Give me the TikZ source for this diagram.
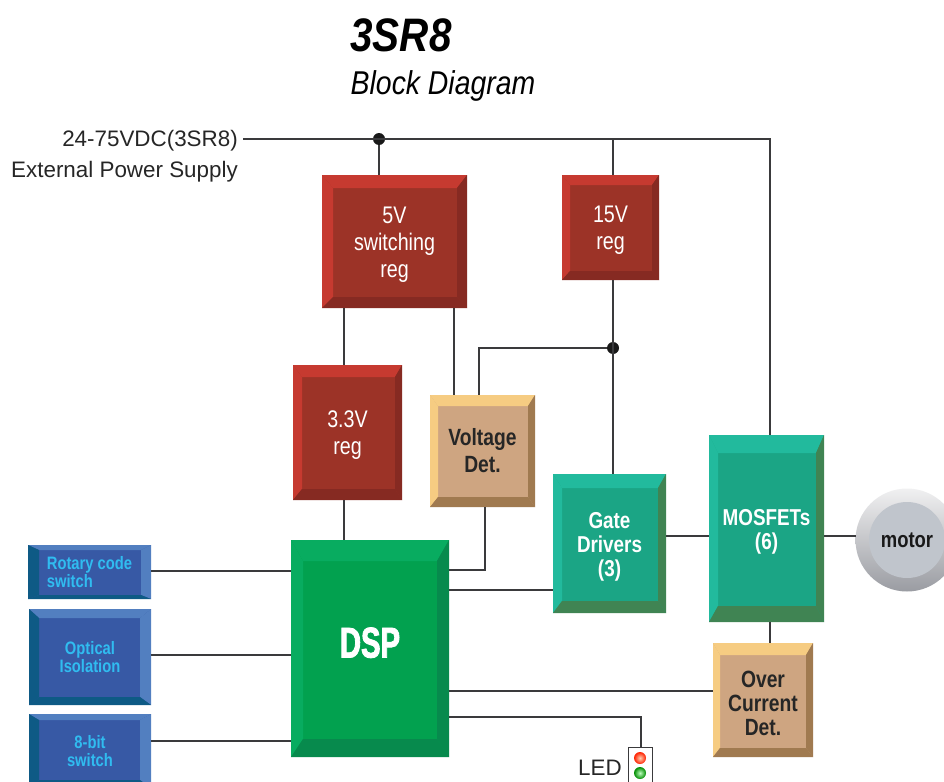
\documentclass[tikz,border=0pt]{standalone}
\usepackage{fontspec}
\setmainfont{Liberation Sans}
\newfontfamily\condfont[FakeStretch=0.82]{Liberation Sans}
\newfontfamily\headfont[FakeStretch=0.86,BoldFeatures={FakeBold=1.5}]{Liberation Sans}
\newfontfamily\dspfont[FakeStretch=0.68,BoldFeatures={FakeBold=2}]{Liberation Sans}
\usepackage{xcolor}
\usetikzlibrary{positioning}

\definecolor{wire}{HTML}{3A3A3C}
\definecolor{redT}{HTML}{C63A30}
\definecolor{redF}{HTML}{9C3327}
\definecolor{redD}{HTML}{862A22}
\definecolor{tanT}{HTML}{F6CC82}
\definecolor{tanF}{HTML}{CEA581}
\definecolor{tanD}{HTML}{A07A50}
\definecolor{tealT}{HTML}{22BA9D}
\definecolor{tealF}{HTML}{1BA585}
\definecolor{tealD}{HTML}{408453}
\definecolor{dspT}{HTML}{08AC60}
\definecolor{dspF}{HTML}{02A14F}
\definecolor{dspD}{HTML}{078A4D}
\definecolor{bluL}{HTML}{527FC0}
\definecolor{bluF}{HTML}{3759A5}
\definecolor{bluD}{HTML}{0E5A85}
\definecolor{cyantext}{HTML}{30BCF0}
\definecolor{motorF}{HTML}{C0C5CC}
\definecolor{motorL}{HTML}{F0F0F1}
\definecolor{motorD}{HTML}{9A9CA2}

\newcommand{\lowstrut}{\rule{0pt}{22pt}}

\tikzset{
  bevel/.style n args={8}{
    anchor=north west, inner sep=0pt, outer sep=0pt, align=center,
    path picture={
      \coordinate (nw) at (path picture bounding box.north west);
      \coordinate (ne) at (path picture bounding box.north east);
      \coordinate (sw) at (path picture bounding box.south west);
      \coordinate (se) at (path picture bounding box.south east);
      \coordinate (inw) at ([shift={(#5pt,-#6pt)}]nw);
      \coordinate (ine) at ([shift={(-#7pt,-#6pt)}]ne);
      \coordinate (isw) at ([shift={(#5pt,#8pt)}]sw);
      \coordinate (ise) at ([shift={(-#7pt,#8pt)}]se);
      \fill[#1] (nw) -- (ne) -- (ine) -- (inw) -- cycle;
      \fill[#2] (nw) -- (sw) -- (isw) -- (inw) -- cycle;
      \fill[#3] (ne) -- (se) -- (ise) -- (ine) -- cycle;
      \fill[#4] (sw) -- (se) -- (ise) -- (isw) -- cycle;
    }},
  regbox/.style={fill=redF, text=white, font=\condfont\fontsize{24}{27}\selectfont},
  detbox/.style={fill=tanF, text=black!85, font=\condfont\bfseries\fontsize{23.5}{27}\selectfont},
  fetbox/.style={fill=tealF, text=white, font=\condfont\bfseries\fontsize{23}{24}\selectfont},
  inbox/.style={fill=bluF, text=cyantext, font=\condfont\bfseries\fontsize{18}{18}\selectfont},
  wireline/.style={draw=wire, line width=1.4pt},
  joint/.style={circle, fill=black!90, minimum size=12pt, inner sep=0pt},
  plain/.style={font=\fontsize{22.4}{27}\selectfont, text=black!85, inner sep=0pt},
  lamp/.style={circle, minimum size=12pt, inner sep=0pt}
}

\begin{document}
\begin{tikzpicture}[x=1pt,y=-1pt]
\useasboundingbox (0,0) rectangle (944,781);

\node(title) at (401,35){\headfont\bfseries\itshape\fontsize{47}{47}\selectfont 3SR8};
\node(subtitle) at (443,86){\headfont\itshape\fontsize{33}{33}\selectfont Block Diagram};

\node(supply)[plain, anchor=east] at (238,141){24-75VDC(3SR8)};
\node(extern)[plain, anchor=east] at (238,172){External Power Supply};

% regulators
\node(regfive)[bevel={redT}{redT}{redD}{redD}{11}{13}{10}{11}, regbox, minimum width=145pt, minimum height=133pt] at (322,175){\lowstrut 5V\\switching\\reg};
\node(regfifteen)[bevel={redT}{redT}{redD}{redD}{8}{10}{7}{9}, regbox, minimum width=97pt, minimum height=105pt] at (562,175){\lowstrut 15V\\reg};
\node(regthree)[bevel={redT}{redT}{redD}{redD}{9}{12}{7}{11}, regbox, minimum width=109pt, minimum height=135pt] at (293,365){\lowstrut 3.3V\\reg};

% detectors
\node(voltdet)[bevel={tanT}{tanT}{tanD}{tanD}{8}{11}{7}{10}, detbox, minimum width=105pt, minimum height=112pt] at (430,395){Voltage\\Det.};
\node(overdet)[bevel={tanT}{tanT}{tanD}{tanD}{7}{12}{7}{9}, detbox, font=\condfont\bfseries\fontsize{23.5}{24}\selectfont, minimum width=100pt, minimum height=114pt] at (713,643){\rule{0pt}{23pt}Over\\Current\\Det.};

% power stage
\node(gate)[bevel={tealT}{tealT}{tealD}{tealD}{9}{14}{8}{12}, fetbox, minimum width=113pt, minimum height=139pt] at (553,474){\lowstrut Gate\\Drivers\\(3)};
\node(mosfet)[bevel={tealT}{tealT}{tealD}{tealD}{9}{18}{8}{16}, fetbox, minimum width=115pt, minimum height=187pt] at (709,435){\lowstrut MOSFETs\\(6)};

% processor
\node(dsp)[bevel={dspT}{dspT}{dspD}{dspD}{12}{21}{12}{18}, fill=dspF, text=white, font=\dspfont\bfseries\fontsize{43}{43}\selectfont, minimum width=158pt, minimum height=217pt] at (291,540){DSP\rule[-12pt]{0pt}{0pt}};

% inputs
\node(rotary)[bevel={bluL}{bluD}{bluL}{bluD}{11}{5}{10}{4}, inbox, align=left, minimum width=123pt, minimum height=54pt] at (28,545){Rotary code\\switch};
\node(optical)[bevel={bluL}{bluD}{bluL}{bluD}{10}{9}{11}{8}, inbox, minimum width=122pt, minimum height=96pt] at (29,609){Optical\\Isolation};
\node(eightbit)[bevel={bluL}{bluD}{bluL}{bluD}{10}{6}{11}{8}, inbox, minimum width=122pt, minimum height=74pt] at (29,714){8-bit\\switch};

% motor
\node(motor)[circle, inner sep=0pt, outer sep=0pt, minimum size=103pt, shade, shading angle=-45, top color=motorL, bottom color=motorD,
  path picture={\fill[motorF] (path picture bounding box.center) circle (38pt);},
  font=\condfont\bfseries\fontsize{22.5}{24}\selectfont, text=black!90] at (907,540){motor};

% led
\node(ledbox)[draw=wire, line width=1.2pt, anchor=north west, minimum width=24pt, minimum height=46pt, inner sep=0pt] at (628,747){};
\node(ledred)[lamp, shade, inner color=red!20!orange!30, outer color=red!75!orange] at (640,758){};
\node(ledgreen)[lamp, shade, inner color=green!25, outer color=green!55!black] at (640,773){};
\node(ledtext)[plain, anchor=east] at (622,768){LED};

% power rail
\node(jtop)[joint] at (379,139){};
\node(jmid)[joint] at (613,348){};
\coordinate(railend) at (770,139);
\draw[wireline] (243,139) -- (railend) -- (mosfet.north -| railend);
\draw[wireline] (jtop) -- (regfive.north -| jtop);
\draw[wireline] (regfifteen.north -| jmid) -- (jmid |- railend);
\draw[wireline] (regfifteen.south -| jmid) -- (gate.north -| jmid);
\coordinate(bendv) at (479,348);
\draw[wireline] (jmid) -- (bendv) -- (voltdet.north -| bendv);

% regulator feeds
\coordinate(feedthree) at (344,308);
\coordinate(feedvolt) at (454,308);
\draw[wireline] (regfive.south -| feedthree) -- (regthree.north -| feedthree);
\draw[wireline] (regthree.south -| feedthree) -- (dsp.north -| feedthree);
\draw[wireline] (regfive.south -| feedvolt) -- (voltdet.north -| feedvolt);

% signals into the dsp
\coordinate(bendd) at (485,570);
\draw[wireline] (voltdet.south -| bendd) -- (bendd) -- (dsp.east |- bendd);
\draw[wireline] (rotary.east |- 0,571) -- (dsp.west |- 0,571);
\draw[wireline] (optical.east |- 0,655) -- (dsp.west |- 0,655);
\draw[wireline] (eightbit.east |- 0,741) -- (dsp.west |- 0,741);
\draw[wireline] (dsp.east |- 0,590) -- (gate.west |- 0,590);
\draw[wireline] (gate.east |- 0,536) -- (mosfet.west |- 0,536);
\draw[wireline] (mosfet.east |- 0,536) -- (motor.west |- 0,536);
\draw[wireline] (mosfet.south -| railend) -- (overdet.north -| railend);
\draw[wireline] (dsp.east |- 0,691) -- (overdet.west |- 0,691);
\coordinate(bendl) at (641,717);
\draw[wireline] (dsp.east |- bendl) -- (bendl) -- (ledbox.north -| bendl);
\end{tikzpicture}
\end{document}
